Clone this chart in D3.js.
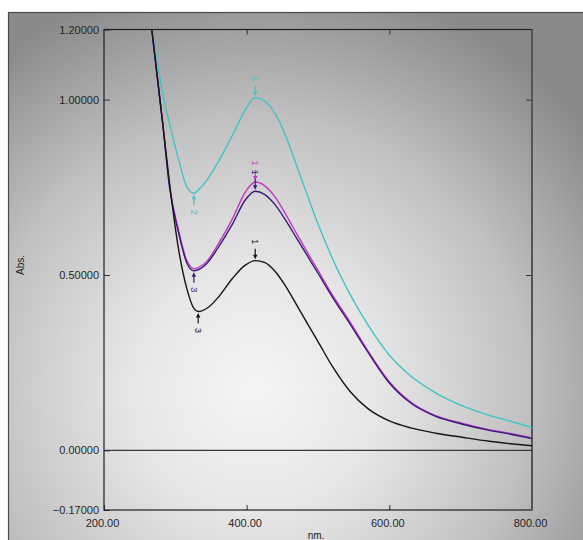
<!DOCTYPE html>
<html>
<head>
<meta charset="utf-8">
<script src="https://cdn.jsdelivr.net/npm/d3@7"></script>
<style>
  body { margin: 0; background: #fff; }
  svg { display: block; font-family: "Liberation Sans", Arial, sans-serif; }
</style>
</head>
<body>
<div id="chart"></div>
<script>
"use strict"

// wavelengths (nm) shared by all four scans
var wavelengths = [262, 267, 274, 282, 292, 304, 316, 326, 332, 345, 360, 380, 398, 412, 425,
                   440, 455, 470, 485, 500, 520, 545, 570, 600, 630, 665, 700, 740, 770, 800];
// absorbance of each scan
var cyanAbs    = [1.28, 1.20, 1.117, 1.021, 0.931, 0.834, 0.752, 0.733, 0.742, 0.772, 0.822, 0.898, 0.970, 1.006, 0.996,
                  0.960, 0.895, 0.812, 0.728, 0.646, 0.548, 0.445, 0.358, 0.272, 0.212, 0.164, 0.129, 0.100, 0.083, 0.065];
var magentaAbs = [1.29, 1.20, 1.078, 0.940, 0.752, 0.632, 0.542, 0.518, 0.521, 0.541, 0.588, 0.660, 0.736, 0.765, 0.755,
                  0.722, 0.672, 0.618, 0.565, 0.513, 0.444, 0.366, 0.284, 0.196, 0.138, 0.099, 0.078, 0.059, 0.048, 0.036];
var navyAbs    = [1.29, 1.20, 1.077, 0.937, 0.748, 0.625, 0.535, 0.512, 0.515, 0.535, 0.578, 0.645, 0.714, 0.739, 0.730,
                  0.700, 0.655, 0.605, 0.555, 0.505, 0.438, 0.360, 0.280, 0.192, 0.135, 0.097, 0.076, 0.057, 0.046, 0.034];
var blackAbs   = [1.29, 1.20, 1.077, 0.937, 0.760, 0.580, 0.462, 0.405, 0.396, 0.406, 0.436, 0.490, 0.528, 0.541, 0.536,
                  0.510, 0.467, 0.415, 0.362, 0.310, 0.240, 0.168, 0.119, 0.084, 0.064, 0.049, 0.038, 0.026, 0.019, 0.013];

var xTicks = [200, 400, 600, 800];
var yTicks = [1.2, 1.0, 0.5, 0.0, -0.17];
var xDomain = [200, 800];
var yDomain = [-0.17, 1.2];

// series: colour, values, label at the peak and at the valley
var series = [
  {key: "cyan",    color: "#43c4c4", values: cyanAbs,    peak: "1", valley: "2"},
  {key: "magenta", color: "#c238c2", values: magentaAbs, peak: "1", valley: null},
  {key: "navy",    color: "#3a1a78", values: navyAbs,    peak: "1", valley: "3"},
  {key: "black",   color: "#151515", values: blackAbs,   peak: "1", valley: "3"}
];

var size = {width: 583, height: 540};
var plot = {left: 104, top: 29.5, right: 532, bottom: 510};

var svg = d3.select("#chart").append("svg")
    .attr("width", size.width)
    .attr("height", size.height);

// grey radial backdrop of the instrument window
var defs = svg.append("defs");
var grad = defs.append("radialGradient")
    .attr("id", "bg")
    .attr("gradientUnits", "userSpaceOnUse")
    .attr("cx", 255).attr("cy", 390).attr("r", 420);
grad.append("stop").attr("offset", 0).attr("stop-color", "#f5f5f5");
grad.append("stop").attr("offset", 0.3).attr("stop-color", "#e6e6e6");
grad.append("stop").attr("offset", 0.65).attr("stop-color", "#c0c0c0");
grad.append("stop").attr("offset", 1).attr("stop-color", "#8a8a8a");

defs.append("clipPath").attr("id", "plotclip")
  .append("rect")
    .attr("x", plot.left).attr("y", plot.top)
    .attr("width", plot.right - plot.left)
    .attr("height", plot.bottom - plot.top);

svg.append("rect")
    .attr("x", 8.5).attr("y", 12.5)
    .attr("width", 700).attr("height", 700)
    .attr("fill", "url(#bg)")
    .attr("stroke", "#4a4a4a")
    .attr("stroke-width", 1.2);

// scales
var x = d3.scaleLinear().domain(xDomain).range([plot.left, plot.right]);
var y = d3.scaleLinear().domain(yDomain).range([plot.bottom, plot.top]);

// axes, ticks pointing inward
var yAxis = svg.append("g")
    .attr("transform", "translate(" + plot.left + ",0)")
    .call(d3.axisLeft(y).tickValues(yTicks).tickSize(-6).tickPadding(5).tickFormat(d3.format(".5f")));
var xAxis = svg.append("g")
    .attr("transform", "translate(0," + plot.bottom + ")")
    .call(d3.axisBottom(x).tickValues(xTicks).tickSize(-5).tickPadding(9).tickFormat(d3.format(".2f")));
var topAxis = svg.append("g")
    .attr("transform", "translate(0," + plot.top + ")")
    .call(d3.axisTop(x).tickValues([400, 600]).tickSize(-5).tickFormat(""));
var rightAxis = svg.append("g")
    .attr("transform", "translate(" + plot.right + ",0)")
    .call(d3.axisRight(y).tickValues([1.0, 0.5]).tickSize(-6).tickFormat(""));

[yAxis, xAxis, topAxis, rightAxis].forEach(function(a) {
  a.select(".domain").remove();
  a.selectAll("line").attr("stroke", "#333");
  a.selectAll("text")
    .attr("fill", "#262626")
    .style("font-size", "11px")
    .style("font-family", "'Liberation Sans', Arial, sans-serif");
});
xAxis.selectAll("text").attr("dx", -2);

// plot frame
svg.append("rect")
    .attr("x", plot.left).attr("y", plot.top)
    .attr("width", plot.right - plot.left)
    .attr("height", plot.bottom - plot.top)
    .attr("fill", "none")
    .attr("stroke", "#1e1e1e")
    .attr("stroke-width", 1.2);
svg.append("line")
    .attr("x1", plot.right).attr("x2", plot.right)
    .attr("y1", plot.top).attr("y2", plot.bottom)
    .attr("stroke", "#555").attr("stroke-width", 2);

// zero line
svg.append("line")
    .attr("x1", plot.left).attr("x2", plot.right)
    .attr("y1", y(0)).attr("y2", y(0))
    .attr("stroke", "#3a3a3a").attr("stroke-width", 1.3);

// axis titles
svg.append("text")
    .attr("transform", "translate(20,265) rotate(-90)")
    .attr("text-anchor", "middle")
    .attr("dy", "0.35em")
    .attr("fill", "#222")
    .style("font-size", "10px")
    .text("Abs.");
svg.append("text")
    .attr("x", 316).attr("y", 539)
    .attr("text-anchor", "middle")
    .attr("fill", "#222")
    .style("font-size", "10px")
    .text("nm.");

// spectra
var line = d3.line()
    .curve(d3.curveMonotoneX)
    .x(function(d, i) { return x(wavelengths[i]); })
    .y(function(d) { return y(d); });

var curves = svg.append("g").attr("clip-path", "url(#plotclip)");
curves.selectAll(".line")
  .data(series)
  .enter().append("path")
    .attr("class", "line")
    .attr("fill", "none")
    .attr("stroke", function(d) { return d.color; })
    .attr("stroke-width", 1.4)
    .attr("d", function(d) { return line(d.values); });

// peak / valley pick markers
function findIndex(values, lo, hi, cmp) {
  var best = -1;
  wavelengths.forEach(function(w, i) {
    if (w < lo || w > hi) return;
    if (best < 0 || cmp(values[i], values[best])) best = i;
  });
  return best;
}

var marks = [];
series.forEach(function(s) {
  var p = findIndex(s.values, 370, 460, function(a, b) { return a > b; });
  marks.push({color: s.color, nm: wavelengths[p], v: s.values[p], text: s.peak, dir: -1});
  if (s.valley) {
    var m = findIndex(s.values, 300, 360, function(a, b) { return a < b; });
    marks.push({color: s.color, nm: wavelengths[m], v: s.values[m], text: s.valley, dir: 1});
  }
});

var mk = svg.append("g").selectAll("g")
  .data(marks)
  .enter().append("g")
    .attr("transform", function(d) { return "translate(" + x(d.nm) + "," + y(d.v) + ")"; });
mk.append("line")
    .attr("y1", function(d) { return d.dir * 12; })
    .attr("y2", function(d) { return d.dir * 3; })
    .attr("stroke", function(d) { return d.color; })
    .attr("stroke-width", 1.2);
mk.append("path")
    .attr("d", function(d) {
      var t = d.dir * 1.5, b = d.dir * 6;
      return "M0," + t + "L-2.2," + b + "L2.2," + b + "Z";
    })
    .attr("fill", function(d) { return d.color; });
mk.append("text")
    .attr("transform", function(d) { return "translate(0," + (d.dir * 19) + ") rotate(90)"; })
    .attr("text-anchor", "middle")
    .attr("dy", "0.35em")
    .attr("fill", function(d) { return d.color; })
    .style("font-size", "9px")
    .text(function(d) { return d.text; });
</script>
</body>
</html>
